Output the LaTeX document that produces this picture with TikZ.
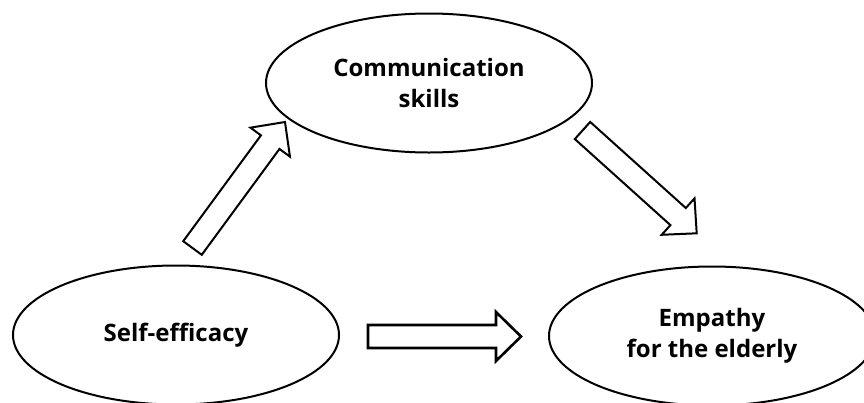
\documentclass[tikz,border=0pt]{standalone}
\usepackage{fontspec}
\setmainfont{Open Sans}[Ligatures=CommonOff]
\usetikzlibrary{calc,shapes.geometric}

% hollow block arrow: optional style, tail, tip
\newcommand{\arrowheadlen}{25pt}
\newcommand{\arrowshafthw}{11.5pt}
\newcommand{\arrowheadhw}{24.5pt}
\newcommand{\hollowarrow}[3][]{%
  \path ($(#3)!\arrowheadlen!(#2)$) coordinate (hq);
  \draw[blockarrow,#1] ($(#2)!\arrowshafthw!90:(#3)$)
    -- ($(hq)!\arrowshafthw!-90:(#2)$)
    -- ($(hq)!\arrowheadhw!-90:(#2)$)
    -- (#3)
    -- ($(hq)!\arrowheadhw!90:(#2)$)
    -- ($(hq)!\arrowshafthw!90:(#2)$)
    -- ($(#2)!\arrowshafthw!-90:(#3)$) -- cycle;
}

\begin{document}
\begin{tikzpicture}[
    x=1pt, y=-1pt,
    construct/.style={ellipse, draw, line width=2pt, minimum width=326pt,
      minimum height=139pt, inner sep=0pt, align=center,
      font=\fontsize{24}{30.5}\selectfont\bfseries},
    blockarrow/.style={draw, fill=white, line width=2pt, line join=miter},
]
\useasboundingbox (0,0) rectangle (864,402);

% --- constructs ---
\node[construct] (comm) at (429,83) {Communication\\skills};
\node[construct] (self) at (176,335) {Self-efficacy};
\node[construct] (emp) at (712,336) {Empathy\\for the elderly};

% --- arrow ends ---
\coordinate (up-tail) at (192.5,248);
\coordinate (up-tip) at (285,122);
\coordinate (down-tail) at (582.5,130.5);
\coordinate (down-tip) at (696.7,233.3);
\coordinate (mid-tail) at (368,336.5);
\coordinate (mid-tip) at (521,336.5);

% --- paths ---
\hollowarrow{up-tail}{up-tip}
\hollowarrow{down-tail}{down-tip}
\hollowarrow[line width=2.6pt]{mid-tail}{mid-tip}

\end{tikzpicture}
\end{document}
